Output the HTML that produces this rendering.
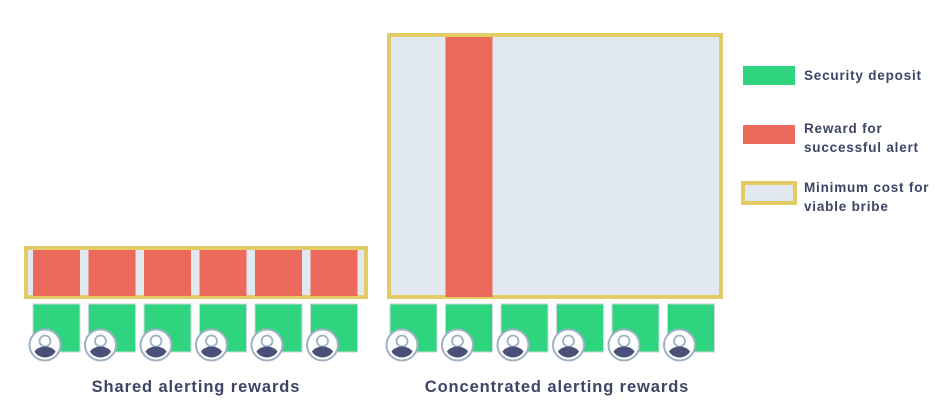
<!DOCTYPE html>
<html><head><meta charset="utf-8"><style>
html,body{margin:0;padding:0;background:#fff;}
svg{display:block;}
text{font-family:"Liberation Sans",sans-serif;font-weight:bold;fill:#3d4466;}
</style></head><body>
<svg id="chart" width="934" height="417" viewBox="0 0 934 417" xmlns="http://www.w3.org/2000/svg">
<g id="left"></g>
<g id="right"></g>
<text x="196" y="392" font-size="16.5" letter-spacing="0.9" text-anchor="middle">Shared alerting rewards</text>
<text x="557" y="392" font-size="16.5" letter-spacing="0.9" text-anchor="middle">Concentrated alerting rewards</text>
<g letter-spacing="0.8">
<rect x="743" y="66" width="52" height="19" fill="#2fd57e"/>
<text x="804" y="80" font-size="13.5">Security deposit</text>
<rect x="743" y="125" width="52" height="19" fill="#ec6a5b"/>
<text x="804" y="133" font-size="13.5"><tspan x="804">Reward for</tspan><tspan x="804" dy="19">successful alert</tspan></text>
<rect x="743" y="183" width="52" height="20" fill="#e1e8f0" stroke="#e3cc66" stroke-width="4"/>
<text x="804" y="192" font-size="13.5"><tspan x="804">Minimum cost for</tspan><tspan x="804" dy="19">viable bribe</tspan></text>
</g>
</svg>
<script>
const participants = [1,2,3,4,5,6];
const sharedRewards = [1,1,1,1,1,1];
const concentratedRewards = [0,1,0,0,0,0];
const NS="http://www.w3.org/2000/svg";
function mk(parent,tag,attrs){const e=document.createElementNS(NS,tag);for(const k in attrs)e.setAttribute(k,attrs[k]);parent.appendChild(e);return e;}
function slotX(x0,i){return x0+i*55.5;}
function avatar(g,cx,cy){
  const a=mk(g,'g',{});
  
  
  mk(a,'circle',{cx:cx,cy:cy,r:15.5,fill:'#fff',stroke:'#9fb1c4','stroke-width':2});
  const cp=mk(a,'clipPath',{id:'c'+Math.round(cx)});
  mk(cp,'circle',{cx:cx,cy:cy,r:12.5});
  mk(a,'circle',{cx:cx,cy:cy-4,r:5.5,fill:'#fff',stroke:'#9fb1c4','stroke-width':1.8});
  mk(a,'ellipse',{cx:cx,cy:cy+11,rx:12,ry:9.5,fill:'#4a5178','clip-path':'url(#c'+Math.round(cx)+')'});
}
function group(id,x0,rewards,bigBox){
  const g=document.getElementById(id);
  if(bigBox){
    const b=mk(g,'rect',{x:389,y:35,width:332,height:262,fill:'#e1e8f0',stroke:'#e3cc66','stroke-width':4});
    
  } else {
    const b=mk(g,'rect',{x:26,y:248,width:340,height:49,fill:'#e1e8f0',stroke:'#e3cc66','stroke-width':4});
    
  }
  participants.forEach((p,i)=>{
    const x=slotX(x0,i);
    if(rewards[i]){
      const r = bigBox ? mk(g,'rect',{x:x,y:37,width:47,height:260,fill:'#ec6a5b'}) : mk(g,'rect',{x:x,y:250,width:47,height:46,fill:'#ec6a5b'});
      
      
    }
    const d=mk(g,'rect',{x:x,y:304,width:47,height:48,fill:'#2fd57e',stroke:'#c9d6e0','stroke-width':1});
    
    
    avatar(g,x+12,345);
  });
}
group('left',33,sharedRewards,false);
group('right',390,concentratedRewards,true);
</script>
</body></html>
